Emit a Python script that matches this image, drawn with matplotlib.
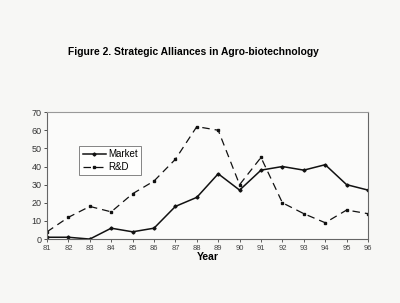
import matplotlib
matplotlib.use("Agg")
import matplotlib.pyplot as plt

years = [81, 82, 83, 84, 85, 86, 87, 88, 89, 90, 91, 92, 93, 94, 95, 96]
year_labels = [str(y) for y in years]
market = [1, 1, 0, 6, 4, 6, 18, 23, 36, 27, 38, 40, 38, 41, 30, 27]
rnd = [4, 12, 18, 15, 25, 32, 44, 62, 60, 30, 45, 20, 14, 9, 16, 14]
yticks = [0, 10, 20, 30, 40, 50, 60, 70]

plt.rcParams['font.family'] = ['Liberation Sans', 'DejaVu Sans']

fig = plt.figure(figsize=(4.0, 3.03), dpi=100, facecolor='#f7f7f5')
ax = fig.add_axes([0.1175, 0.211, 0.8025, 0.419])
ax.set_facecolor('#fbfbfa')

ax.plot(years, market, color='#111111', lw=1.1, marker='D', ms=1.6, label='Market')
ax.plot(years, rnd, color='#111111', lw=0.9, ls=(0, (6, 4)), marker='s', ms=1.8, label='R&D')

ax.set_xlim(81, 96)
ax.set_ylim(0, 70)
ax.set_xticks(years)
ax.set_xticklabels(year_labels)
ax.set_yticks(yticks)
ax.tick_params(axis='x', labelsize=5.5, length=2, width=0.6, colors='#444444', pad=2)
ax.tick_params(axis='y', labelsize=6.5, length=2, width=0.6, colors='#333333', pad=2)
for s in ax.spines.values():
    s.set_color('#666666')
    s.set_linewidth(0.8)
ax.spines['top'].set_color('#999999')

ax.set_xlabel('Year', fontsize=7.5, fontweight='bold', labelpad=0)

leg = ax.legend(loc='upper left', bbox_to_anchor=(0.1, 0.735), borderaxespad=0,
                fontsize=7, frameon=True, fancybox=False, borderpad=0.35,
                handlelength=2.4, handletextpad=0.2, labelspacing=0.3)
leg.get_frame().set_edgecolor('#666666')
leg.get_frame().set_linewidth(0.7)

fig.text(0.483, 0.828, 'Figure 2. Strategic Alliances in Agro-biotechnology',
         ha='center', va='center', fontsize=7.4, fontweight='bold')

fig.savefig('out.png', dpi=100, facecolor=fig.get_facecolor())
